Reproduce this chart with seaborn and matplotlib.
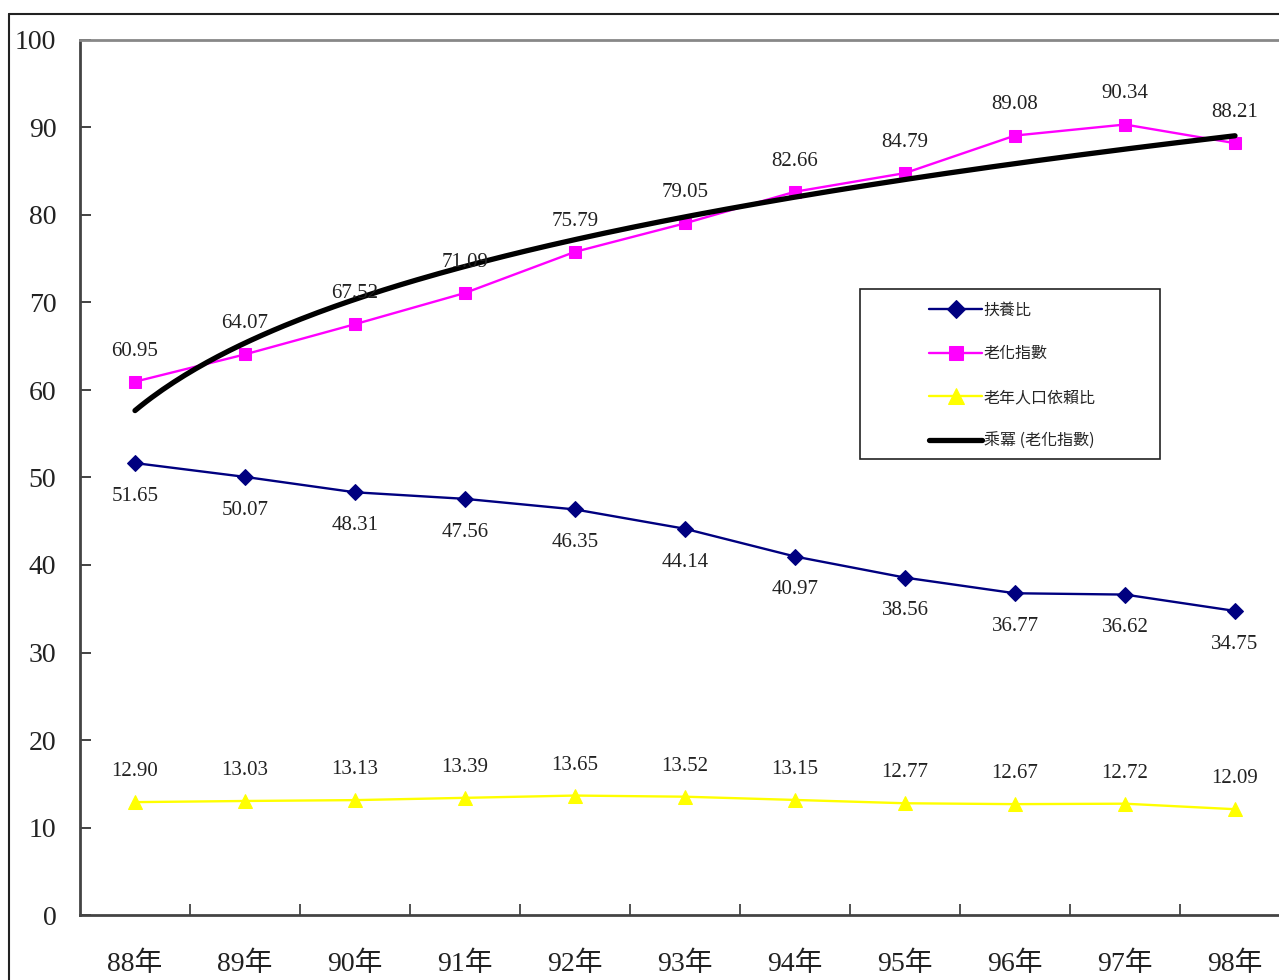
import numpy as np
import pandas as pd
import matplotlib.pyplot as plt
import seaborn as sns
from matplotlib.lines import Line2D

# data
years = ["88年", "89年", "90年", "91年", "92年", "93年", "94年", "95年", "96年", "97年", "98年"]
dependency = [51.65, 50.07, 48.31, 47.56, 46.35, 44.14, 40.97, 38.56, 36.77, 36.62, 34.75]
aging_index = [60.95, 64.07, 67.52, 71.09, 75.79, 79.05, 82.66, 84.79, 89.08, 90.34, 88.21]
old_dependency = [12.90, 13.03, 13.13, 13.39, 13.65, 13.52, 13.15, 12.77, 12.67, 12.72, 12.09]

sns.set_theme(style="white")
plt.rcParams["font.family"] = ["Liberation Serif", "Noto Sans CJK TC", "DejaVu Sans"]

df = pd.DataFrame({
    "pos": np.arange(len(years)),
    "扶養比": dependency,
    "老化指數": aging_index,
    "老年人口依賴比": old_dependency,
})

fig = plt.figure(figsize=(12.79, 9.8), dpi=100)
ax = fig.add_axes([80 / 1279, 65 / 980, 1210 / 1279, 875 / 980])

sns.lineplot(data=df, x="pos", y="扶養比", ax=ax, color="#000080", lw=1.7,
             marker="D", markersize=8, markeredgecolor="#000080", label="扶養比")
sns.lineplot(data=df, x="pos", y="老化指數", ax=ax, color="#FF00FF", lw=1.7,
             marker="s", markersize=9, markeredgecolor="#FF00FF", label="老化指數")
sns.lineplot(data=df, x="pos", y="老年人口依賴比", ax=ax, color="#FFFF00", lw=1.7,
             marker="^", markersize=10, markeredgecolor="#FFFF00", label="老年人口依賴比")

# power trendline of the aging index (Excel style, x = 1..n)
xn = df["pos"].values + 1
b, log_a = np.polyfit(np.log(xn), np.log(df["老化指數"].values), 1)
xs = np.linspace(1, len(years), 200)
trend = pd.DataFrame({"pos": xs - 1, "fit": np.exp(log_a) * xs ** b})
sns.lineplot(data=trend, x="pos", y="fit", ax=ax, color="black", lw=3.8,
             label="乘冪 (老化指數)")
ax.lines[-1].set_solid_capstyle("round")

# data labels
for i in range(len(years)):
    ax.annotate(f"{dependency[i]:.2f}", (i, dependency[i]), xytext=(0, -24),
                textcoords="offset points", ha="center", va="center", fontsize=15, color="#222222")
    ax.annotate(f"{aging_index[i]:.2f}", (i, aging_index[i]), xytext=(0, 22),
                textcoords="offset points", ha="center", va="center", fontsize=15, color="#222222")
    ax.annotate(f"{old_dependency[i]:.2f}", (i, old_dependency[i]), xytext=(0, 22),
                textcoords="offset points", ha="center", va="center", fontsize=15, color="#222222")

ax.set_xlim(-0.5, 10.5)
ax.set_ylim(0, 100)
ax.set_yticks(range(0, 101, 10))
ax.set_xticks(df["pos"])
ax.set_xticklabels(years)
ax.set_xticks(np.arange(0.5, 10, 1), minor=True)
ax.tick_params(axis="x", which="major", length=0, pad=26, labelsize=20, colors="#222222")
ax.tick_params(axis="x", which="minor", direction="in", length=8, width=1.2,
               color="#333333", bottom=True)
ax.tick_params(axis="y", direction="in", length=8, width=1.2, color="#222222",
               pad=17, labelsize=20, labelcolor="#222222", left=True)
ax.set_xlabel("")
ax.set_ylabel("")

for side in ["left", "bottom"]:
    ax.spines[side].set_color("#444444")
    ax.spines[side].set_linewidth(2)
ax.spines["top"].set_color("#888888")
ax.spines["top"].set_linewidth(2)
ax.spines["right"].set_visible(False)

# legend with a separate frame box
leg = ax.legend(loc="upper left", bbox_to_anchor=(915 / 1279, 1 - 287 / 980),
                bbox_transform=fig.transFigure, frameon=False, handlelength=3.3,
                handletextpad=0.1, labelspacing=1.68, markerscale=1.1,
                prop={"family": ["Noto Sans CJK TC"], "size": 11.5})
fig.add_artist(plt.Rectangle((860 / 1279, 1 - 459 / 980), 300 / 1279, 170 / 980,
                             transform=fig.transFigure, fill=False, edgecolor="#222222", lw=1.2))

# outer frame of the picture
fig.add_artist(Line2D([9 / 1279, 9 / 1279], [0, 1 - 14 / 980], transform=fig.transFigure,
                      color="#222222", lw=1.5))
fig.add_artist(Line2D([9 / 1279, 1], [1 - 14 / 980, 1 - 14 / 980], transform=fig.transFigure,
                      color="#222222", lw=1.5))

fig.savefig("out.png", dpi=100)
